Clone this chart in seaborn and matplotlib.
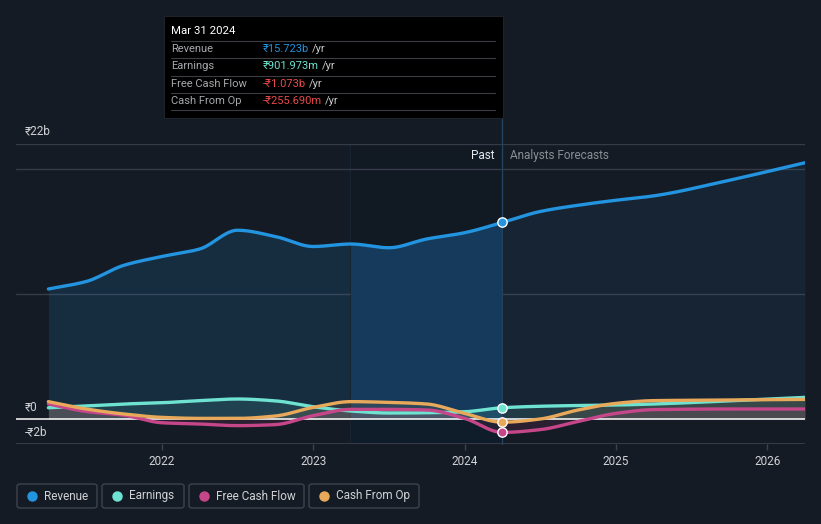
import numpy as np
import pandas as pd
import matplotlib
matplotlib.use("Agg")
import matplotlib.pyplot as plt
import seaborn as sns
from matplotlib.patches import FancyBboxPatch, Rectangle
from matplotlib.lines import Line2D

# ---------------- data (₹ billions) ----------------
years = [2021.25, 2021.5, 2021.75, 2022.0, 2022.25, 2022.5, 2022.75,
         2023.0, 2023.25, 2023.5, 2023.75, 2024.0, 2024.25,
         2024.5, 2024.75, 2025.0, 2025.25, 2025.75, 2026.25]
revenue = [10.4, 11.0, 12.3, 13.0, 13.6, 15.1, 14.6,
           13.8, 14.0, 13.7, 14.4, 14.9, 15.723,
           16.6, 17.1, 17.5, 17.85, 19.1, 20.5]
earnings = [0.9, 1.05, 1.2, 1.3, 1.47, 1.6, 1.45,
            0.98, 0.64, 0.48, 0.5, 0.58, 0.902,
            1.02, 1.08, 1.12, 1.2, 1.45, 1.73]
free_cash_flow = [1.2, 0.6, 0.3, -0.3, -0.4, -0.53, -0.45,
                  0.27, 0.77, 0.77, 0.72, 0.05, -1.073,
                  -0.85, -0.2, 0.45, 0.75, 0.8, 0.8]
cash_from_op = [1.39, 0.8, 0.4, 0.13, 0.05, 0.05, 0.24,
                0.93, 1.39, 1.33, 1.2, 0.45, -0.256,
                0.0, 0.72, 1.25, 1.47, 1.52, 1.57]
series_names = ["Revenue", "Earnings", "Free Cash Flow", "Cash From Op"]
colors = ["#2394df", "#6fe3d2", "#c6468a", "#e8a95b"]
x_ticks = [2022, 2023, 2024, 2025, 2026]
now_year = 2024.25
band_start = 2023.24
tooltip_title = "Mar 31 2024"
tooltip_values = ["₹15.723b", "₹901.973m", "-₹1.073b", "-₹255.690m"]
tooltip_colors = ["#2394df", "#6fe3d2", "#e8494a", "#e8494a"]

BG = "#151b25"
W, H = 821, 524


def pchip(x, y, xs):
    x = np.asarray(x, float); y = np.asarray(y, float)
    h = np.diff(x); d = np.diff(y) / h
    m = np.zeros_like(y)
    for k in range(1, len(x) - 1):
        if d[k - 1] * d[k] <= 0:
            m[k] = 0.0
        else:
            w1 = 2 * h[k] + h[k - 1]; w2 = h[k] + 2 * h[k - 1]
            m[k] = (w1 + w2) / (w1 / d[k - 1] + w2 / d[k])
    m[0] = d[0]; m[-1] = d[-1]
    idx = np.clip(np.searchsorted(x, xs) - 1, 0, len(x) - 2)
    t = (xs - x[idx]) / h[idx]
    h00 = 2 * t**3 - 3 * t**2 + 1; h10 = t**3 - 2 * t**2 + t
    h01 = -2 * t**3 + 3 * t**2; h11 = t**3 - t**2
    return h00 * y[idx] + h10 * h[idx] * m[idx] + h01 * y[idx + 1] + h11 * h[idx] * m[idx + 1]


sns.set_theme(style="dark")
plt.rcParams["font.family"] = ["Roboto", "Noto Sans", "DejaVu Sans"]

fig = plt.figure(figsize=(W / 100, H / 100), dpi=100, facecolor=BG)
ax = fig.add_axes([16 / W, 1 - 444 / H, 789 / W, 300 / H])
ax.set_facecolor(BG)
ax.set_xlim(2021.036, 2026.25)
ax.set_ylim(-2, 22)

xs = np.linspace(years[0], years[-1], 800)
data_all = [revenue, earnings, free_cash_flow, cash_from_op]
rows = []
smooth = {}
for name, vals in zip(series_names, data_all):
    ys = pchip(years, vals, xs)
    smooth[name] = ys
    rows.append(pd.DataFrame({"year": xs, "value": ys, "series": name}))
df = pd.concat(rows, ignore_index=True)

# highlighted band (last year of actuals)
ax.add_patch(Rectangle((band_start, 0), now_year - band_start, 22,
                       facecolor="#111923", lw=0, zorder=0.5))
ax.add_patch(Rectangle((band_start, -2), now_year - band_start, 2,
                       facecolor="#0f1d2a", lw=0, zorder=0.5))
ax.axvline(band_start, color="#172330", lw=0.8, zorder=0.6)

# fills
rv = smooth["Revenue"]
past = xs <= now_year
inband = (xs >= band_start) & past
outband = (xs <= band_start + 0.003)
ax.fill_between(xs[outband], 0, rv[outband], color="#2394df", alpha=0.14, lw=0, zorder=1)
ax.fill_between(xs[inband], 0, rv[inband], color="#153a5b", lw=0, zorder=1)
ax.fill_between(xs[~past], 0, rv[~past], color="#2394df", alpha=0.08, lw=0, zorder=1)
for name, c in zip(series_names[1:], colors[1:]):
    ax.fill_between(xs, 0, smooth[name], color=c, alpha=0.12, lw=0, zorder=1.2)

# gridlines
for gy in [20, 10, 22]:
    ax.axhline(gy, color="#363c47", lw=1, zorder=0.8)
ax.axhline(-2, color="#3d434e", lw=1.2, zorder=0.8)
ax.axhline(0, color="#ffffff", lw=1.1, zorder=2)

sns.lineplot(data=df, x="year", y="value", hue="series", hue_order=series_names,
             palette=colors, estimator=None, sort=False, legend=False, lw=2.4,
             ax=ax, zorder=3)

# now line
ax.axvline(now_year, ymin=0, ymax=(444 - 118) / 300, color="#24425e", lw=1,
           clip_on=False, zorder=2.5)
for vals, c in zip(data_all, colors):
    ax.scatter([now_year], [vals[years.index(now_year)]], s=45, color=c,
               edgecolor="white", linewidth=1, zorder=5)

# axes styling
for s in ax.spines.values():
    s.set_visible(False)
ax.set_xticks(x_ticks)
ax.set_xticklabels([str(t) for t in x_ticks])
ax.tick_params(axis="x", colors="#3d434e", labelcolor="#d0d2d6", labelsize=8.5,
               length=4, width=1, direction="out", pad=4, bottom=True)
ax.set_yticks([])
ax.set_xlabel(""); ax.set_ylabel("")
ax.grid(False)


def fy(py):
    return 1 - py / H


fig.text(25 / W, fy(131), "₹22b", color="#d0d2d6", fontsize=8.5, va="center", ha="left")
fig.text(25 / W, fy(407), "₹0", color="#d0d2d6", fontsize=8.5, va="center", ha="left")
fig.text(25 / W, fy(432), "-₹2b", color="#d0d2d6", fontsize=8.5, va="center", ha="left")

fig.text(494 / W, fy(156), "Past", color="#e8e9eb", fontsize=8.5, va="center", ha="right")
fig.text(510 / W, fy(156), "Analysts Forecasts", color="#8a8e96", fontsize=8.5,
         va="center", ha="left")

# tooltip
fig.add_artist(Rectangle((164 / W, fy(118)), (503 - 164) / W, (118 - 16) / H,
                         transform=fig.transFigure, facecolor="#000000",
                         edgecolor="#1e232b", lw=0.8, zorder=10))
fig.text(171 / W, fy(31), tooltip_title, color="#ffffff", fontsize=8.2, va="center",
         ha="left", zorder=11)
row_y = [49, 66, 84, 101]
for yy in [41, 58, 76, 93, 110]:
    fig.add_artist(Line2D([171 / W, 495 / W], [fy(yy), fy(yy)], transform=fig.transFigure,
                          color="#3a3d42", lw=0.8, zorder=11))
fig.canvas.draw()
for name, val, c, yy in zip(series_names, tooltip_values, tooltip_colors, row_y):
    fig.text(171 / W, fy(yy), name, color="#a6a8ac", fontsize=8, va="center",
             ha="left", zorder=11)
    t = fig.text(263 / W, fy(yy), val, color=c, fontsize=8, va="center", ha="left",
                 zorder=11)
    bb = t.get_window_extent(renderer=fig.canvas.get_renderer())
    fig.text((bb.x1 + 3) / W, fy(yy), "/yr", color="#c8cacd", fontsize=8,
             va="center", ha="left", zorder=11)

# legend boxes
boxes = [(17, 97), (102, 184), (189, 304), (309, 419)]
for (x0, x1), name, c in zip(boxes, series_names, colors):
    fig.add_artist(FancyBboxPatch((x0 / W, fy(508)), (x1 - x0) / W, 24 / H,
                                  boxstyle="round,pad=0,rounding_size=0.004",
                                  transform=fig.transFigure, facecolor=BG,
                                  edgecolor="#3e434c", lw=1, zorder=10))
    fig.add_artist(Line2D([(x0 + 15) / W], [fy(496)], marker="o", markersize=6.5,
                          color=c, lw=0, transform=fig.transFigure, zorder=11))
    fig.text((x0 + 27) / W, fy(496), name, color="#d0d2d6", fontsize=8.5,
             va="center", ha="left", zorder=11)

fig.savefig("out.png", dpi=100, facecolor=BG)
